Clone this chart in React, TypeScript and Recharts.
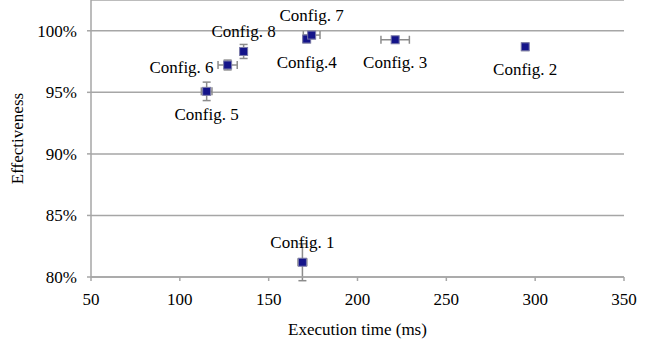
import { ScatterChart, Scatter, XAxis, YAxis, CartesianGrid, ErrorBar, Label } from "recharts";

// config names, execution time (ms), effectiveness (%), and error sizes
const configs = ["Config. 1", "Config. 2", "Config. 3", "Config.4", "Config. 5", "Config. 6", "Config. 7", "Config. 8"];
const execTime = [169, 294.4, 221.2, 171.4, 115.1, 126.9, 174.2, 135.9];
const effectiveness = [81.2, 98.7, 99.27, 99.33, 95.08, 97.22, 99.65, 98.32];
const timeErr = [2.5, 1, 8, 2, 3, 5.4, 4.7, 1.5];
const effErr = [1.5, 0.3, 0.2, 0.3, 0.75, 0.4, 0.3, 0.57];

const xTicks = [50, 100, 150, 200, 250, 300, 350];
const yTicks = [80, 85, 90, 95, 100];

// where each label sits relative to its marker
const labelSide: Record<string, string> = {
  "Config. 1": "top",
  "Config. 2": "bottom",
  "Config. 3": "bottom",
  "Config.4": "bottom",
  "Config. 5": "bottom",
  "Config. 6": "left",
  "Config. 7": "top",
  "Config. 8": "top",
};

const data = configs.map((name, i) => ({
  name,
  x: execTime[i],
  y: effectiveness[i],
  ex: timeErr[i],
  ey: effErr[i],
}));

const font = "Liberation Serif, Times New Roman, serif";
const textStyle = { fill: "#000", fontFamily: font, fontSize: 17 };

function Marker(props: any) {
  const { cx, cy, payload } = props;
  const side = labelSide[payload.name];
  let tx = cx, ty = cy, anchor = "middle";
  if (side === "top") ty = cy - 20;
  else if (side === "bottom") ty = cy + 23;
  else if (side === "left") { tx = cx - 14; ty = cy + 2; anchor = "end"; }
  return (
    <g>
      <rect x={cx - 4} y={cy - 4} width={8} height={8} fill="#14148a" stroke="#7a7aa8" strokeWidth={1} />
      <text x={tx} y={ty} textAnchor={anchor} dominantBaseline="central" style={textStyle}>
        {payload.name}
      </text>
    </g>
  );
}

export default function App() {
  return (
    <div style={{ position: "absolute", left: 0, top: 0, background: "#fff", fontFamily: font }}>
      <ScatterChart width={660} height={343} margin={{ top: 0, right: 36, bottom: 0, left: 0 }}>
        <CartesianGrid horizontal vertical={false} stroke="#a6a6a6" strokeWidth={1.5} />
        <XAxis
          type="number"
          dataKey="x"
          domain={[50, 350]}
          ticks={xTicks}
          height={66}
          stroke="#a6a6a6"
          strokeWidth={1.5}
          tickSize={4}
          tickMargin={12}
          tick={{ ...textStyle, style: textStyle }}
        >
          <Label value="Execution time (ms)" position="insideBottom" offset={8} style={textStyle} />
        </XAxis>
        <YAxis
          type="number"
          dataKey="y"
          domain={[80, 102.5]}
          ticks={yTicks}
          allowDataOverflow
          width={91}
          stroke="#a6a6a6"
          strokeWidth={1.5}
          tickSize={4}
          tickMargin={10}
          tickFormatter={(v: number) => `${v}%`}
          tick={{ ...textStyle, style: textStyle }}
        >
          <Label value="Effectiveness" angle={-90} position="insideLeft" offset={17} style={{ ...textStyle, textAnchor: "middle" }} />
        </YAxis>
        <Scatter data={data} isAnimationActive={false} shape={Marker}>
          <ErrorBar dataKey="ex" direction="x" width={4} stroke="#8c8c8c" strokeWidth={1.5} />
          <ErrorBar dataKey="ey" direction="y" width={4} stroke="#8c8c8c" strokeWidth={1.5} />
        </Scatter>
      </ScatterChart>
    </div>
  );
}
